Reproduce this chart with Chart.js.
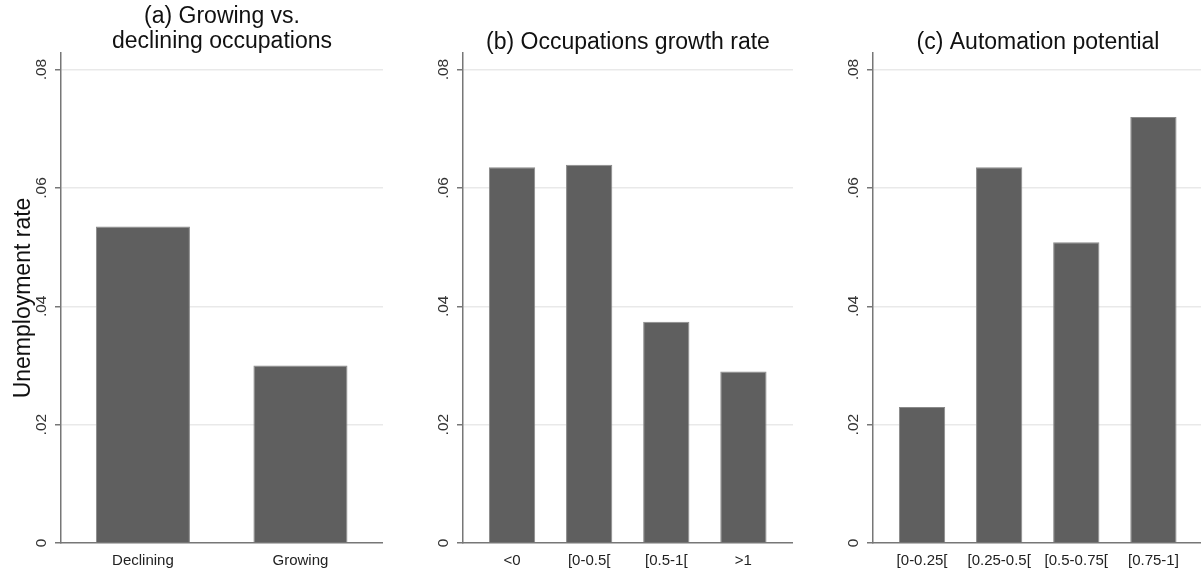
<!DOCTYPE html>
<html>
<head>
<meta charset="utf-8">
<script src="https://cdn.jsdelivr.net/npm/chart.js@4"></script>
<style>
html,body{margin:0;padding:0;background:#fff;overflow:hidden;width:1201px;height:574px;position:relative;}
.p{position:absolute;top:0;height:574px;}
</style>
</head>
<body>
<div class="p" style="left:0px;width:383px"><canvas id="ca"></canvas></div>
<div class="p" style="left:400px;width:393px"><canvas id="cb"></canvas></div>
<div class="p" style="left:810px;width:393px"><canvas id="cc"></canvas></div>
<script>
// ---- data ----
const catsA = ['Declining', 'Growing'];
const valsA = [0.0535, 0.0300];
const catsB = ['<0', '[0-0.5[', '[0.5-1[', '>1'];
const valsB = [0.0635, 0.0639, 0.0374, 0.0290];
const catsC = ['[0-0.25[', '[0.25-0.5[', '[0.5-0.75[', '[0.75-1]'];
const valsC = [0.0230, 0.0635, 0.0508, 0.0720];
const yTicks = [0, 0.02, 0.04, 0.06, 0.08];
const yTickLabels = ['0', '.02', '.04', '.06', '.08'];
const titleA = ['(a) Growing vs.', 'declining occupations'];
const titleB = '(b) Occupations growth rate';
const titleC = '(c) Automation potential';
const yTitle = 'Unemployment rate';

Chart.defaults.font.family = "'Liberation Sans', Arial, Helvetica, sans-serif";

function makeChart(id, cats, vals, title, opt) {
  return new Chart(document.getElementById(id), {
    type: 'bar',
    data: {
      datasets: [{
        data: vals.map((v, i) => ({x: i, y: v})),
        backgroundColor: '#5f5f5f',
        borderColor: '#8a8a8a',
        borderWidth: 1,
        barPercentage: opt.barFrac,
        categoryPercentage: 1
      }]
    },
    options: {
      responsive: true,
      maintainAspectRatio: false,
      animation: false,
      layout: {padding: 0},
      plugins: {
        legend: {display: false},
        tooltip: {enabled: false},
        title: {
          display: true,
          text: title,
          fullSize: false,
          color: '#111',
          font: {size: 23, weight: 'normal', lineHeight: 25 / 23},
          padding: {top: opt.titleTop, bottom: opt.titleBottom}
        }
      },
      scales: {
        x: {
          type: 'linear',
          min: opt.xmin,
          max: opt.xmax,
          offset: false,
          afterBuildTicks: s => { s.ticks = cats.map((_, i) => ({value: i})); },
          afterFit: s => { s.height = 31; },
          ticks: {
            autoSkip: false,
            maxRotation: 0,
            minRotation: 0,
            padding: 9,
            color: '#222',
            font: {size: 15},
            callback: v => cats[v]
          },
          grid: {display: false, drawTicks: false, offset: false},
          border: {display: true, color: '#777', width: 1.5}
        },
        y: {
          type: 'linear',
          min: 0,
          max: 0.0828,
          afterBuildTicks: s => { s.ticks = yTicks.map(v => ({value: v})); },
          afterFit: s => { s.width = opt.yWidth; },
          ticks: {
            minRotation: 90,
            maxRotation: 90,
            crossAlign: 'center',
            padding: 3,
            color: '#333',
            font: {size: 15.5},
            callback: v => yTickLabels[yTicks.indexOf(v)]
          },
          grid: {
            color: c => (c.tick && c.tick.value === 0) ? 'rgba(0,0,0,0)' : '#e9e9e9',
            lineWidth: 1.5,
            tickColor: '#777',
            tickLength: 6,
            drawTicks: true
          },
          border: {display: true, color: '#777', width: 1.5},
          title: {
            display: opt.showYTitle,
            text: yTitle,
            color: '#111',
            font: {size: 23},
            padding: {top: 10, bottom: 0}
          }
        }
      }
    }
  });
}

makeChart('ca', catsA, valsA, titleA, {barFrac: 0.597, xmin: -0.52, xmax: 1.524, yWidth: 61, titleTop: 4, titleBottom: -1, showYTitle: true});
makeChart('cb', catsB, valsB, titleB, {barFrac: 0.6, xmin: -0.636, xmax: 3.643, yWidth: 63, titleTop: 30.5, titleBottom: -2.5, showYTitle: false});
makeChart('cc', catsC, valsC, titleC, {barFrac: 0.6, xmin: -0.636, xmax: 3.643, yWidth: 63, titleTop: 30.5, titleBottom: -2.5, showYTitle: false});
</script>
</body>
</html>
